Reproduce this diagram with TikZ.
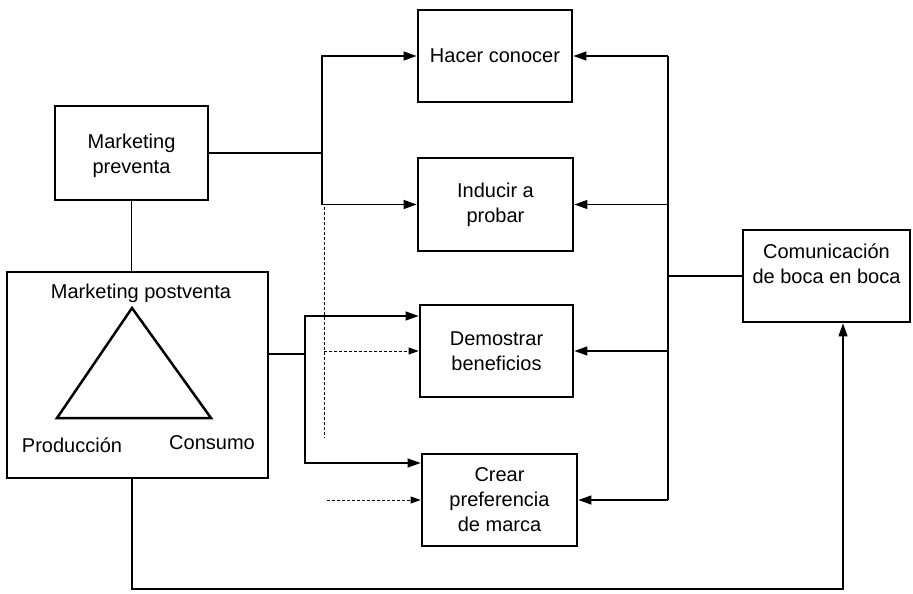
\documentclass[tikz,border=0pt]{standalone}
\usepackage{fontspec}
\setmainfont{Liberation Sans}
\usetikzlibrary{arrows.meta,calc}
\begin{document}
\begin{tikzpicture}[x=1pt,y=-1pt,
  box/.style={draw,line width=2.8pt,inner sep=0pt,align=center,font=\fontsize{20}{25}\selectfont},
  txt/.style={inner sep=0pt,align=center,font=\fontsize{20}{25}\selectfont},
  conn/.style={line width=1.2pt},
  arr/.style={conn,-{Triangle[length=13pt,width=9pt]}},
  dotline/.style={line width=1pt,dash pattern=on 3pt off 2pt},
  dotarr/.style={dotline,-{Triangle[length=10pt,width=7pt]}}]
\useasboundingbox (0,0) rectangle (913,594);
% boxes
\node[box,minimum width=154pt,minimum height=92pt] (hacer) at (495,56) {Hacer conocer};
\node[box,minimum width=155pt,minimum height=93pt] (inducir) at (495.5,204.5) {Inducir a\\probar};
\node[box,minimum width=153pt,minimum height=92pt] (demostrar) at (496.5,351) {Demostrar\\beneficios};
\node[box,minimum width=155pt,minimum height=92pt] (crear) at (499.5,500) {Crear\\preferencia\\de marca};
\node[box,minimum width=167pt,minimum height=92pt] (com) at (826.5,276) {};
\node[txt] (comt) at (826.5,264) {Comunicación\\de boca en boca};
\node[box,minimum width=153pt,minimum height=94pt] (pre) at (131.5,153) {};
\node[txt] (pret) at (131.5,156) {Marketing\\preventa};
\node[box,minimum width=261pt,minimum height=206pt] (post) at (137.5,375) {};
\node[txt] (mpost) at (141,293) {Marketing postventa};
\node[txt] (prod) at (72,445) {Producción};
\node[txt] (cons) at (212,443) {Consumo};
% triangle
\coordinate (ta) at (132,308);
\coordinate (tb) at (57,418);
\coordinate (tc) at (211,418);
\draw[line width=2.5pt,line join=miter] (ta) -- (tb) -- (tc) -- cycle;
% preventa connections
\coordinate (j1) at (322,153);
\draw[conn] (pre.east) -- (j1);
\draw[arr] (j1) |- (hacer.west);
\draw[arr] (j1) |- (inducir.west);
\draw[conn] (pre.south) -- (pre.south |- post.north);
% postventa connections
\coordinate (j2) at (305,354);
\draw[conn] (post.east |- j2) -- (j2);
\coordinate (dtop) at ($(demostrar.west)+(0,-35)$);
\coordinate (ctop) at ($(crear.west)+(0,-37)$);
\draw[arr] (j2) |- (dtop);
\draw[arr] (j2) |- (ctop);
% dotted lines
\coordinate (d1) at (324,207);
\coordinate (d2) at (324,438);
\draw[dotline] (d1) -- (d2);
\draw[dotarr] (d1 |- demostrar.west) -- (demostrar.west);
\coordinate (d4) at (327,500);
\draw[dotarr] (d4) -- (crear.west);
% right side
\coordinate (r1) at (668,56);
\draw[conn] (r1) -- (r1 |- crear.east);
\draw[arr] (r1) -- (hacer.east);
\draw[arr] (r1 |- inducir.east) -- (inducir.east);
\draw[arr] (r1 |- demostrar.east) -- (demostrar.east);
\draw[arr] (r1 |- crear.east) -- (crear.east);
\draw[conn] (r1 |- com.west) -- (com.west);
% bottom feedback
\coordinate (b1) at (132,589);
\coordinate (b2) at (843,589);
\draw[arr] (post.south -| b1) -- (b1) -- (b2) -- (b2 |- com.south);
\end{tikzpicture}
\end{document}
